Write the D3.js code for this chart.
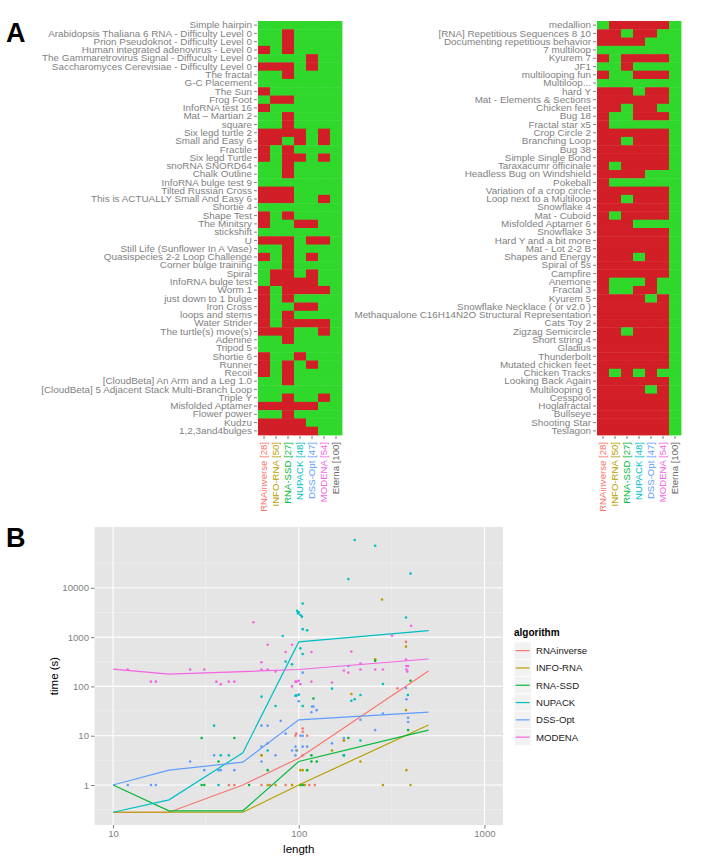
<!DOCTYPE html>
<html><head><meta charset="utf-8">
<script src="https://cdn.jsdelivr.net/npm/d3@7"></script>
<style>body{margin:0;background:#fff} svg{display:block} text{font-family:"Liberation Sans",Arial,Helvetica,sans-serif}</style>
</head><body><svg id="c" width="704" height="858"></svg>
<script>
// ---------- DATA ----------
const columns = ["RNAinverse","INFO-RNA","RNA-SSD","NUPACK","DSS-Opt","MODENA","Eterna"];
const solvedCounts = [28,50,27,48,47,54,100];
const columnColors = ["#F8766D","#B79F00","#00BA38","#00BFC4","#619CFF","#F564E3","#666666"];

const puzzlesLeft = ["Simple hairpin","Arabidopsis Thaliana 6 RNA - Difficulty Level 0","Prion Pseudoknot - Difficulty Level 0","Human integrated adenovirus - Level 0","The Gammaretrovirus Signal - Diffuculty Level 0","Saccharomyces Cerevisiae - Difficulty Level 0","The fractal","G-C Placement","The Sun","Frog Foot","InfoRNA test 16","Mat \u2013 Martian 2","square","Six legd turtle 2","Small and Easy 6","Fractile","Six legd Turtle","snoRNA SNORD64","Chalk Outline","InfoRNA bulge test 9","Tilted Russian Cross","This is ACTUALLY Small And Easy 6","Shortie 4","Shape Test","The Minitsry","stickshift ","U","Still Life (Sunflower In A Vase)","Quasispecies 2-2 Loop Challenge","Corner bulge training ","Spiral","InfoRNA bulge test","Worm 1","just down to 1 bulge","Iron Cross","loops and stems","Water Strider","The turtle(s) move(s)","Adenine","Tripod 5","Shortie 6","Runner ","Recoil","[CloudBeta] An Arm and a Leg 1.0 ","[CloudBeta] 5 Adjacent Stack Multi-Branch Loop","Triple Y","Misfolded Aptamer","Flower power","Kudzu","1,2,3and4bulges"];
// 1 = failed (red), 0 = solved (green); one character per column
const resultsLeft = ["0000000","0010000","0010000","1010000","0000100","1110100","0010000","0000000","1000000","0110000","1000000","0010000","0010000","1111010","1101010","1010000","1011010","0010000","0010000","0000000","1110000","1110010","0000000","1010000","1001100","0000000","1110110","0010000","1010100","0010000","0110100","0111100","1011110","1010000","1001100","1010000","1011110","1110010","0010000","0000000","1001000","1010100","1010000","0010000","0000000","0010010","1111100","0010000","1111000","1111100"];

const puzzlesRight = ["medallion","[RNA] Repetitious Sequences 8 10","Documenting repetitious behavior","7 multiloop","Kyurem 7","JF1","multilooping fun","Multiloop...","hard Y","Mat - Elements & Sections","Chicken feet","Bug 18","Fractal star x5","Crop Circle 2","Branching Loop","Bug 38","Simple Single Bond","Taraxacumr officinale","Headless Bug on Windshield","Pokeball","Variation of a crop circle","Loop next to a Multiloop","Snowflake 4","Mat - Cuboid","Misfolded Aptamer 6","Snowflake 3","Hard Y and a bit more","Mat - Lot 2-2 B","Shapes and Energy","Spiral of 5s","Campfire","Anemone","Fractal 3","Kyurem 5","Snowflake Necklace ( or v2.0 )","Methaqualone C16H14N2O Structural Representation","Cats Toy 2","Zigzag Semicircle","Short string 4","Gladius","Thunderbolt","Mutated chicken feet","Chicken Tracks","Looking Back Again","Multilooping 6","Cesspool","Hoglafractal","Bullseye","Shooting Star","Teslagon"];
const resultsRight = ["0111110","1101100","1111000","0000000","1011110","0010000","1001110","0000000","1110110","1111110","1101100","1001110","1000000","1111110","1101110","1111110","1111110","1011110","1111000","1000000","1111110","1101110","1111110","1011110","1110000","1111110","1111110","1111110","1110110","1111110","1111110","1000100","1001100","1111010","1111110","1111110","1111110","1101110","1111110","1111110","1111110","1111110","1010100","1111110","1111010","1111110","1111110","1111110","1111110","1111110"];

const algorithms = ["RNAinverse","INFO-RNA","RNA-SSD","NUPACK","DSS-Opt","MODENA"];
const algoColors = ["#F8766D","#B79F00","#00BA38","#00BFC4","#619CFF","#F564E3"];
const yTicks = [1,10,100,1000,10000];
const xTicks = [10,100,1000];

// points: [length, time (s)]
const ptsRNAinverse = [[42,1],[45,1],[63,1],[85,1],[92,1],[97,11],[102,1],[114,1],[122,1],[105,14],[105,12],[111,10],[96,10],[105,4],[175,8],[340,92],[378,800],[63,4],[70,1]];
const ptsINFORNA = [[68,1],[75,1],[281,5800],[378,640],[258,355],[192,70],[378,33],[151,5],[215,3],[380,2],[284,1],[102,2],[105,2],[108,1],[98,5],[175,8],[400,1],[63,4],[92,1]];
const ptsRNASSD = [[30,9],[45,9],[30,1],[31,1],[37,3],[54,1],[68,2],[120,57],[258,330],[185,9],[175,4],[117,4],[125,3],[117,3],[111,2],[102,1],[105,1],[388,13],[400,130]];
const ptsNUPACK = [[98,3400],[100,3200],[82,1050],[85,320],[92,280],[63,62],[75,40],[97,65],[100,68],[35,16],[38,4],[42,4],[37,1],[68,5],[200,93000],[258,71000],[185,15000],[400,19500],[105,4800],[99,3000],[102,2800],[104,2600],[105,1450],[111,1370],[378,2500],[102,590],[105,455],[151,90],[284,112],[96,65],[105,40],[200,55],[192,51],[215,67],[387,67],[215,8],[175,4]];
const ptsDSSOpt = [[12,1],[16,1],[17,1],[26,3],[31,2],[37,2],[38,2],[45,2],[35,4],[63,16],[68,16],[80,20],[85,11],[92,5],[97,5],[100,50],[63,3],[75,4],[63,6],[68,7],[105,190],[185,260],[215,21],[284,28],[258,13],[378,93],[380,55],[388,23],[388,19],[102,10],[105,10],[96,6],[105,6],[111,6],[96,4],[118,39],[120,39],[117,30],[125,33],[151,7],[175,9]];
const ptsMODENA = [[12,220],[16,125],[17,125],[26,220],[31,220],[36,125],[38,111],[42,125],[45,125],[57,2000],[68,700],[63,310],[63,220],[68,220],[75,200],[85,500],[92,100],[97,125],[96,125],[100,130],[102,111],[117,125],[117,500],[192,510],[175,210],[185,190],[215,220],[258,220],[284,220],[318,1070],[403,1700],[378,350],[380,260],[388,260],[380,220],[384,200],[151,120],[92,700],[215,290]];

// summary lines: [length, time]
const lineRNAinverse = [[10,0.28],[20,0.28],[50,1],[100,3.5],[500,205]];
const lineINFORNA = [[10,0.28],[20,0.28],[50,0.28],[100,1],[500,16.5]];
const lineRNASSD = [[10,1],[20,0.3],[50,0.3],[100,3],[500,13]];
const lineNUPACK = [[10,0.28],[20,0.5],[50,4.5],[100,800],[500,1350]];
const lineDSSOpt = [[10,1],[20,2],[50,2.9],[100,21],[500,30]];
const lineMODENA = [[10,225],[20,178],[50,200],[100,220],[500,360]];

const allPts = [ptsRNAinverse,ptsINFORNA,ptsRNASSD,ptsNUPACK,ptsDSSOpt,ptsMODENA];
const allLines = [lineRNAinverse,lineINFORNA,lineRNASSD,lineNUPACK,lineDSSOpt,lineMODENA];

// ---------- DRAW ----------
const svg = d3.select("#c");
const RED = "#D21E26", GREEN = "#2FD82B", GREY = "#7F7F7F";
const FONT = "Liberation Sans, Arial, sans-serif";

svg.append("text").attr("x",6).attr("y",42).attr("font-size",27).attr("font-weight","bold").text("A");

function heatmap(names, results, x0, x1) {
  const x = d3.scaleBand().domain(columns).range([x0, x1]);
  const y = d3.scaleBand().domain(names).range([21, 435]);
  const g = svg.append("g");
  const cells = [];
  names.forEach((n,i)=>columns.forEach((c,j)=>cells.push({n,c,v:results[i][j]})));
  g.selectAll("rect").data(cells).join("rect")
    .attr("x", d=>x(d.c)).attr("y", d=>y(d.n))
    .attr("width", x.bandwidth()+0.4).attr("height", y.bandwidth()+0.4)
    .attr("fill", d=>d.v==="1"?RED:GREEN);
  const ay = svg.append("g").attr("transform",`translate(${x0-1},0)`)
    .call(d3.axisLeft(y).tickSize(3).tickPadding(2));
  ay.select(".domain").remove();
  ay.selectAll("line").attr("stroke",GREY);
  ay.selectAll("text").attr("fill",GREY).attr("font-size",9.9).attr("font-family",FONT);
  const ax = svg.append("g").attr("transform",`translate(0,436)`)
    .call(d3.axisBottom(x).tickSize(3).tickPadding(2).tickFormat((c)=>`${c} [${solvedCounts[columns.indexOf(c)]}]`));
  ax.select(".domain").remove();
  ax.selectAll("line").attr("stroke",GREY);
  ax.selectAll("text").attr("font-size",9.6).attr("font-family",FONT)
    .attr("fill",(c)=>columnColors[columns.indexOf(c)])
    .attr("text-anchor","end").attr("transform","rotate(-90)")
    .attr("x",-6).attr("y",0).attr("dy","0.35em");
}
heatmap(puzzlesLeft, resultsLeft, 258, 342);
heatmap(puzzlesRight, resultsRight, 597, 681);

// ---------- Panel B ----------
svg.append("text").attr("x",6).attr("y",547).attr("font-size",27).attr("font-weight","bold").text("B");

const L = 94.5, R = 503, T = 527, B = 825;
const xs = d3.scaleLog().domain([10**0.9, 10**3.1]).range([L, R]);
const ys = d3.scaleLog().domain([10**-0.811, 10**5.233]).range([B, T]);

svg.append("rect").attr("x",L).attr("y",T).attr("width",R-L).attr("height",B-T).attr("fill","#E5E5E5");
const xMinor = xTicks.map(t=>t*Math.sqrt(10)).concat([10/Math.sqrt(10)]).filter(v=>v>xs.domain()[0]&&v<xs.domain()[1]);
const yMinor = yTicks.map(t=>t*Math.sqrt(10)).concat([1/Math.sqrt(10)]).filter(v=>v>ys.domain()[0]&&v<ys.domain()[1]);
const grid = svg.append("g");
grid.selectAll(".xm").data(xMinor).join("line").attr("x1",d=>xs(d)).attr("x2",d=>xs(d)).attr("y1",T).attr("y2",B).attr("stroke","#F2F2F2").attr("stroke-width",0.6);
grid.selectAll(".ym").data(yMinor).join("line").attr("class","ym").attr("y1",d=>ys(d)).attr("y2",d=>ys(d)).attr("x1",L).attr("x2",R).attr("stroke","#F2F2F2").attr("stroke-width",0.6);
grid.selectAll(".xM").data(xTicks).join("line").attr("class","xM").attr("x1",d=>xs(d)).attr("x2",d=>xs(d)).attr("y1",T).attr("y2",B).attr("stroke","#fff").attr("stroke-width",1.1);
grid.selectAll(".yM").data(yTicks).join("line").attr("class","yM").attr("y1",d=>ys(d)).attr("y2",d=>ys(d)).attr("x1",L).attr("x2",R).attr("stroke","#fff").attr("stroke-width",1.1);

svg.append("defs").append("clipPath").attr("id","pclip").append("rect").attr("x",L).attr("y",T).attr("width",R-L).attr("height",B-T);
const plot = svg.append("g").attr("clip-path","url(#pclip)");
allPts.forEach((pts,i)=>{
  plot.append("g").selectAll("circle").data(pts).join("circle")
    .attr("cx",d=>xs(d[0])).attr("cy",d=>ys(d[1])).attr("r",1.3).attr("fill",algoColors[i]);
});
const line = d3.line().x(d=>xs(d[0])).y(d=>ys(d[1]));
allLines.forEach((ln,i)=>{
  plot.append("path").attr("d",line(ln)).attr("fill","none").attr("stroke",algoColors[i]).attr("stroke-width",1.2);
});

const axY = svg.append("g").attr("transform",`translate(${L},0)`)
  .call(d3.axisLeft(ys).tickValues(yTicks).tickFormat(d3.format("d")).tickSize(3.5).tickPadding(2));
axY.select(".domain").remove();
axY.selectAll("line").attr("stroke",GREY);
axY.selectAll("text").attr("fill",GREY).attr("font-size",9.6).attr("font-family",FONT);
const axX = svg.append("g").attr("transform",`translate(0,${B})`)
  .call(d3.axisBottom(xs).tickValues(xTicks).tickFormat(d3.format("d")).tickSize(3.5).tickPadding(2));
axX.select(".domain").remove();
axX.selectAll("line").attr("stroke",GREY);
axX.selectAll("text").attr("fill",GREY).attr("font-size",9.6).attr("font-family",FONT);

svg.append("text").attr("x",(L+R)/2).attr("y",853).attr("text-anchor","middle").attr("font-size",11.5).text("length");
svg.append("text").attr("transform",`translate(58,${(T+B)/2}) rotate(-90)`).attr("text-anchor","middle").attr("font-size",11.5).text("time (s)");

// legend
const lg = svg.append("g").attr("transform",`translate(514,636)`);
lg.append("text").attr("x",0).attr("y",0).attr("font-size",10).attr("font-weight","bold").text("algorithm");
algorithms.forEach((a,i)=>{
  const gy = 6 + i*17.3;
  lg.append("rect").attr("x",0).attr("y",gy).attr("width",17.3).attr("height",17.3).attr("fill","#F2F2F2").attr("stroke","#fff").attr("stroke-width",0.8);
  lg.append("line").attr("x1",1.7).attr("x2",15.6).attr("y1",gy+8.65).attr("y2",gy+8.65).attr("stroke",algoColors[i]).attr("stroke-width",1.2);
  lg.append("text").attr("x",22).attr("y",gy+8.65).attr("dy","0.35em").attr("font-size",9.6).attr("fill","#1a1a1a").text(a);
});
</script></body></html>
